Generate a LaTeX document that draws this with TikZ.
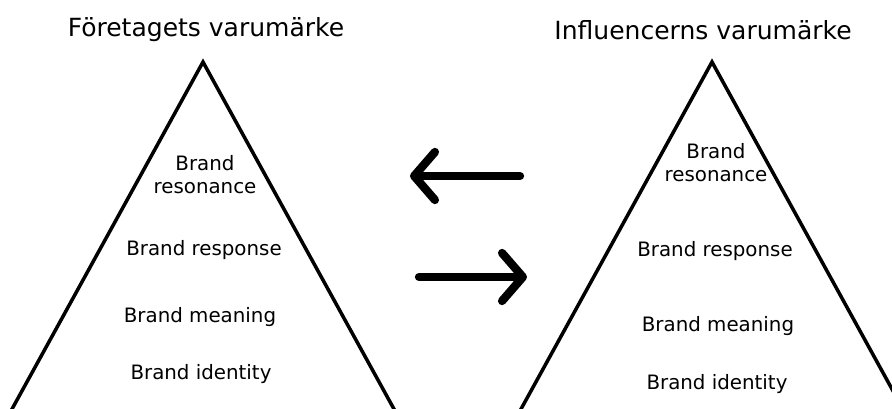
\documentclass[tikz,border=0pt]{standalone}
\usepackage{fontspec}
\setmainfont{DejaVu Sans}
\usetikzlibrary{arrows.meta}
\tikzset{
pyramid/.style={ % Sides of each brand pyramid
draw,
line width=2.5pt,
line join=miter},
level/.style={ % Text of each level
anchor=base,
inner sep=0pt,
font=\fontsize{14.1pt}{16.4pt}\selectfont},
heading/.style={ % Name above each pyramid
anchor=base,
inner sep=0pt,
font=\fontsize{17.8pt}{21pt}\selectfont},
swap/.style={ % Thick arrows between the pyramids
line width=5.9pt,
line cap=round,
-{Straight Barb[length=0.52cm, width=1.2cm, round]}}}

\begin{document}
\begin{tikzpicture}
\clip (0,0) rectangle (22.3,10.225);
% left pyramid
\coordinate (lt) at (5.075,8.675);
\coordinate (ll) at (0.15,-0.275);
\coordinate (lr) at (10.0,-0.275);
\draw[pyramid] (ll) -- (lt) -- (lr);
\node[heading] (ltitle) at (5.15,9.3) {Företagets varumärke};
\node[level, anchor=center, align=center] (lres) at (5.125,5.85) {Brand\\resonance};
\node[level] (lresp) at (5.1,3.825) {Brand response};
\node[level] (lmean) at (5.0,2.15) {Brand meaning};
\node[level] (lid) at (5.025,0.725) {Brand identity};
% right pyramid
\coordinate (rt) at (17.8,8.675);
\coordinate (rl) at (12.875,-0.275);
\coordinate (rr) at (22.725,-0.275);
\draw[pyramid] (rl) -- (rt) -- (rr);
\node[heading] (rtitle) at (17.575,9.225) {Influencerns varumärke};
\node[level, anchor=center, align=center] (rres) at (17.9,6.16) {Brand\\resonance};
\node[level] (rresp) at (17.875,3.8) {Brand response};
\node[level] (rmean) at (17.95,1.925) {Brand meaning};
\node[level] (rid) at (17.925,0.475) {Brand identity};
% arrows
\coordinate (back0) at (13.0,5.825);
\coordinate (back1) at (10.25,5.825);
\coordinate (fwd0) at (10.475,3.3);
\coordinate (fwd1) at (13.175,3.3);
\draw[swap] (back0) -- (back1);
\draw[swap] (fwd0) -- (fwd1);
\end{tikzpicture}
\end{document}
